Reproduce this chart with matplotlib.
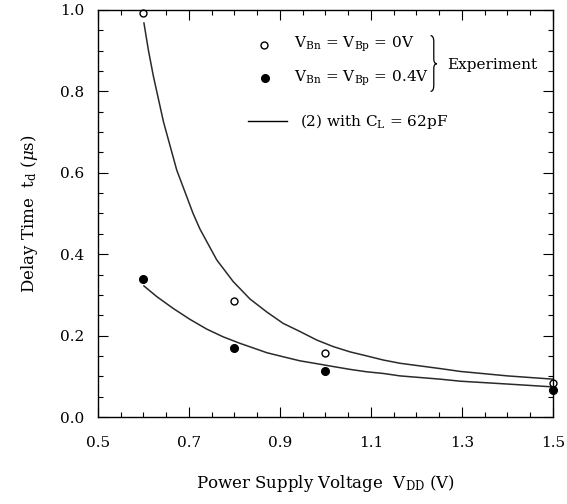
import matplotlib
matplotlib.use("Agg")
import matplotlib.pyplot as plt
from matplotlib.ticker import MultipleLocator
from matplotlib.path import Path
from matplotlib.patches import PathPatch

plt.rcParams["font.family"] = "DejaVu Serif"
plt.rcParams["mathtext.fontset"] = "dejavuserif"

# measured points
vdd_pts = [0.6, 0.8, 1.0, 1.5]
td_0v = [0.993, 0.285, 0.157, 0.083]
td_04v = [0.339, 0.170, 0.113, 0.066]

# eq. (2) curves
vdd_fit0 = [0.601, 0.611, 0.622, 0.644, 0.673, 0.709, 0.724, 0.761, 0.797,
            0.834, 0.871, 0.907, 0.944, 0.981, 1.017, 1.054, 1.091, 1.127,
            1.164, 1.252, 1.296, 1.400, 1.500]
td_fit0 = [0.968, 0.900, 0.836, 0.725, 0.607, 0.500, 0.462, 0.386, 0.333,
           0.290, 0.258, 0.230, 0.210, 0.189, 0.173, 0.160, 0.150, 0.140,
           0.132, 0.119, 0.112, 0.101, 0.093]
vdd_fit4 = [0.601, 0.629, 0.665, 0.702, 0.739, 0.775, 0.812, 0.834, 0.871,
            0.907, 0.944, 0.981, 1.017, 1.054, 1.091, 1.127, 1.164, 1.252,
            1.296, 1.400, 1.500]
td_fit4 = [0.322, 0.296, 0.267, 0.240, 0.216, 0.197, 0.181, 0.1725, 0.158,
           0.148, 0.138, 0.131, 0.124, 0.117, 0.111, 0.107, 0.101, 0.093,
           0.088, 0.081, 0.074]

fig = plt.figure(figsize=(5.67, 5.04), dpi=100)
ax = fig.add_axes([0.1728, 0.1726, 0.8025, 0.8076])

ax.plot(vdd_fit0, td_fit0, color="#2a2a2a", linewidth=1.1)
ax.plot(vdd_fit4, td_fit4, color="#2a2a2a", linewidth=1.1)
ax.plot(vdd_pts, td_0v, "o", markerfacecolor="white", markeredgecolor="black",
        markersize=5, markeredgewidth=1, clip_on=False)
ax.plot(vdd_pts, td_04v, "o", color="black", markersize=5.5, clip_on=False)

ax.set_xlim(0.5, 1.5)
ax.set_ylim(0.0, 1.0)
ax.set_xticks([0.5, 0.7, 0.9, 1.1, 1.3, 1.5])
ax.set_yticks([0.0, 0.2, 0.4, 0.6, 0.8, 1.0])
ax.xaxis.set_minor_locator(MultipleLocator(0.05))
ax.yaxis.set_minor_locator(MultipleLocator(0.05))
ax.tick_params(which="both", direction="in", top=True, right=True,
               labelsize=11, width=0.8)
ax.tick_params(which="major", length=7, pad=14)
ax.tick_params(which="minor", length=3.5)
ax.tick_params(axis="y", which="major", pad=10)
for s in ax.spines.values():
    s.set_linewidth(1.0)

ax.set_xlabel(r"Power Supply Voltage  V$_{\mathrm{DD}}$ (V)", fontsize=12,
              labelpad=16)
ax.set_ylabel(r"Delay Time  t$_{\mathrm{d}}$ ($\mu$s)", fontsize=12,
              labelpad=14)

# hand-drawn legend
ax.plot([0.865], [0.915], "o", markerfacecolor="white",
        markeredgecolor="black", markersize=5)
ax.plot([0.868], [0.832], "o", color="black", markersize=5.5)
ax.plot([0.83, 0.915], [0.727, 0.727], color="black", linewidth=1)
ax.text(0.93, 0.915, r"V$_{\mathrm{Bn}}$ = V$_{\mathrm{Bp}}$ = 0V",
        fontsize=11, va="center", ha="left")
ax.text(0.93, 0.832, r"V$_{\mathrm{Bn}}$ = V$_{\mathrm{Bp}}$ = 0.4V",
        fontsize=11, va="center", ha="left")
ax.text(0.943, 0.727, r"(2) with C$_{\mathrm{L}}$ = 62pF",
        fontsize=11, va="center", ha="left")

# curly brace
bx, bw = 1.231, 0.014
ytop, ymid, ybot = 0.937, 0.868, 0.800
verts = [(bx, ytop), (bx + bw / 2, ytop), (bx + bw / 2, ytop - 0.015),
         (bx + bw / 2, ymid + 0.012), (bx + bw / 2, ymid), (bx + bw, ymid),
         (bx + bw / 2, ymid), (bx + bw / 2, ymid - 0.012),
         (bx + bw / 2, ybot + 0.015), (bx + bw / 2, ybot), (bx, ybot)]
codes = [Path.MOVETO, Path.CURVE3, Path.CURVE3, Path.LINETO, Path.CURVE3,
         Path.CURVE3, Path.CURVE3, Path.CURVE3, Path.LINETO, Path.CURVE3,
         Path.CURVE3]
ax.add_patch(PathPatch(Path(verts, codes), facecolor="none",
                       edgecolor="black", linewidth=0.9))
ax.text(1.267, 0.866, "Experiment", fontsize=11, va="center", ha="left")

fig.savefig("out.png", dpi=100)
